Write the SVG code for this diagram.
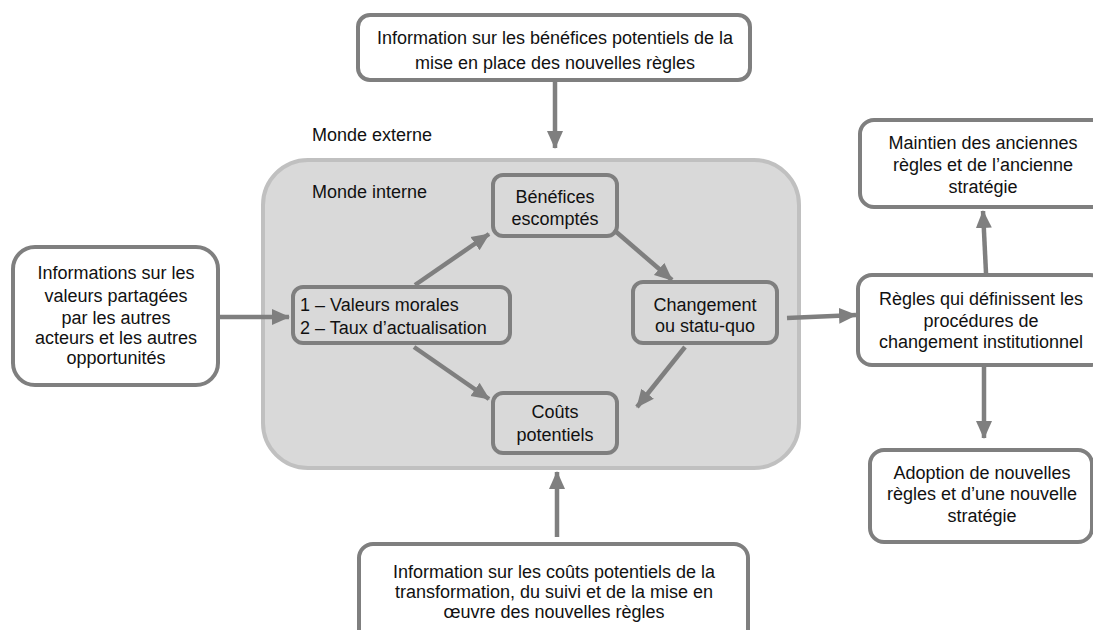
<svg xmlns="http://www.w3.org/2000/svg" width="1093" height="630" viewBox="0 0 1093 630">
<style>
.box{fill:#ffffff;stroke:#7f7f7f;stroke-width:4}
.ibox{fill:#d9d9d9;stroke:#7f7f7f;stroke-width:4}
.t{font-family:"Liberation Sans",Arial,sans-serif;font-size:18px;fill:#111111;text-anchor:middle}
.tl{font-family:"Liberation Sans",Arial,sans-serif;font-size:18px;fill:#111111}
.c{stroke:#7f7f7f;stroke-width:4.5;fill:none;marker-end:url(#ah)}
</style>
<defs>
<marker id="ah" markerUnits="userSpaceOnUse" markerWidth="18" markerHeight="18" refX="17" refY="9" orient="auto" viewBox="0 0 18 18">
<path d="M0,1 L18,9 L0,17 z" fill="#7f7f7f"/>
</marker>
</defs>
<rect width="1093" height="630" fill="#ffffff"/>

<g id="monde-externe-label"><text class="tl" x="312" y="141">Monde externe</text></g>

<g id="monde-interne">
<rect x="263" y="160" width="536" height="308" rx="45" fill="#d9d9d9" stroke="#c0c0c0" stroke-width="4"/>
<text class="tl" x="312" y="198">Monde interne</text>
</g>

<g id="top-info">
<rect class="box" x="358" y="15" width="392" height="65" rx="12"/>
<text class="t" x="555" y="44">Information sur les bénéfices potentiels de la</text>
<text class="t" x="555" y="69">mise en place des nouvelles règles</text>
</g>

<g id="left-info">
<rect class="box" x="13" y="247" width="205" height="138" rx="22"/>
<text class="t" x="116" y="279">Informations sur les</text>
<text class="t" x="116" y="302">valeurs partagées</text>
<text class="t" x="116" y="324">par les autres</text>
<text class="t" x="116" y="344">acteurs et les autres</text>
<text class="t" x="116" y="364">opportunités</text>
</g>

<g id="benefices">
<rect class="ibox" x="493" y="175" width="124" height="61" rx="10"/>
<text class="t" x="555" y="203">Bénéfices</text>
<text class="t" x="555" y="225">escomptés</text>
</g>

<g id="valeurs">
<rect class="ibox" x="293" y="287" width="217" height="56" rx="10"/>
<text class="tl" x="300" y="311">1 – Valeurs morales</text>
<text class="tl" x="300" y="334">2 – Taux d’actualisation</text>
</g>

<g id="changement">
<rect class="ibox" x="633" y="282" width="144" height="61" rx="10"/>
<text class="t" x="705" y="311">Changement</text>
<text class="t" x="705" y="332">ou statu-quo</text>
</g>

<g id="couts">
<rect class="ibox" x="493" y="393" width="124" height="60" rx="10"/>
<text class="t" x="555" y="418">Coûts</text>
<text class="t" x="555" y="441">potentiels</text>
</g>

<g id="bottom-info">
<rect class="box" x="359" y="544" width="389" height="100" rx="14"/>
<text class="t" x="554" y="578">Information sur les coûts potentiels de la</text>
<text class="t" x="554" y="598">transformation, du suivi et de la mise en</text>
<text class="t" x="554" y="618">œuvre des nouvelles règles</text>
</g>

<g id="maintien">
<rect class="box" x="860" y="120" width="246" height="87" rx="14"/>
<text class="t" x="983" y="149">Maintien des anciennes</text>
<text class="t" x="983" y="171">règles et de l’ancienne</text>
<text class="t" x="983" y="193">stratégie</text>
</g>

<g id="regles">
<rect class="box" x="858" y="275" width="246" height="90" rx="14"/>
<text class="t" x="981" y="305">Règles qui définissent les</text>
<text class="t" x="981" y="327">procédures de</text>
<text class="t" x="981" y="348">changement institutionnel</text>
</g>

<g id="adoption">
<rect class="box" x="870" y="450" width="222" height="92" rx="14"/>
<text class="t" x="982" y="479">Adoption de nouvelles</text>
<text class="t" x="982" y="500">règles et d’une nouvelle</text>
<text class="t" x="982" y="522">stratégie</text>
</g>

<g id="connectors">
<line class="c" x1="555" y1="82" x2="555" y2="148"/>
<line class="c" x1="220" y1="317" x2="289" y2="317"/>
<line class="c" x1="557" y1="537" x2="557" y2="472"/>
<line class="c" x1="415" y1="285" x2="489" y2="234"/>
<line class="c" x1="614" y1="230" x2="672" y2="280"/>
<line class="c" x1="414" y1="347" x2="489" y2="399"/>
<line class="c" x1="685" y1="347" x2="637" y2="407"/>
<line class="c" x1="787" y1="318" x2="856" y2="315"/>
<line class="c" x1="986" y1="273" x2="983" y2="211"/>
<line class="c" x1="984" y1="367" x2="984" y2="438"/>
</g>
</svg>
